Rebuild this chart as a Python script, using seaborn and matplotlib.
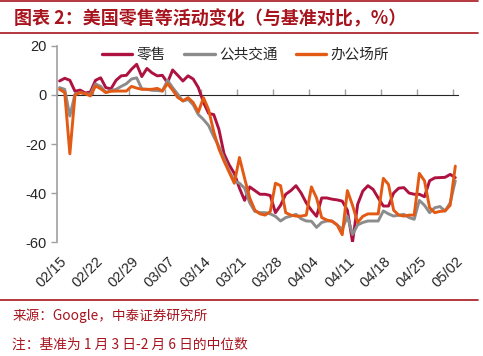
import numpy as np
import pandas as pd
import seaborn as sns
import matplotlib.pyplot as plt
from matplotlib.lines import Line2D

sns.set_style("ticks")
plt.rcParams["font.family"] = ["Noto Sans CJK SC", "DejaVu Sans"]
plt.rcParams["axes.unicode_minus"] = False

# 日期 02/15 - 05/02，每天一个点
dates = pd.date_range("2020-02-15", "2020-05-02", freq="D")
tick_labels = ["02/15", "02/22", "02/29", "03/07", "03/14", "03/21",
               "03/28", "04/04", "04/11", "04/18", "04/25", "05/02"]

retail = [5.7, 6.8, 6.0, 1.5, 2.0, 0.8, 1.2, 6.0, 7.0, 3.0,
          2.5, 6.0, 7.8, 8.0, 10.5, 12.5, 7.5, 10.8, 9.0, 7.8,
          8.0, 5.0, 10.2, 8.0, 5.7, 7.8, 6.5, 3.0, -3.0, -7.5,
          -8.0, -14.0, -24.0, -28.5, -32.0, -38.0, -43.0, -37.5, -39.0, -40.5,
          -40.5, -41.0, -48.0, -45.0, -40.5, -39.0, -37.0, -40.0, -44.0, -47.0,
          -49.5, -42.0, -42.0, -42.5, -42.8, -43.3, -47.0, -60.0, -44.6, -39.2,
          -37.0, -38.5, -42.0, -45.3, -45.3, -40.0, -38.0, -37.8, -40.0, -40.5,
          -40.5, -41.5, -35.0, -33.8, -33.7, -33.6, -32.4, -33.7]

transit = [3.0, 2.3, -8.6, 0.3, 1.0, 0.5, 0.3, 4.5, 3.5, 1.0,
           1.8, 2.3, 3.5, 4.6, 6.5, 7.0, 2.5, 2.3, 1.9, 1.8,
           1.6, 6.0, 3.0, 0.3, -2.5, -1.8, -4.0, -8.0, -10.0, -12.5,
           -17.0, -21.0, -26.0, -31.0, -35.0, -36.0, -38.0, -44.0, -47.5, -48.0,
           -48.0, -48.5, -49.5, -51.4, -50.0, -49.4, -48.7, -50.5, -51.4, -51.5,
           -54.0, -52.0, -51.4, -51.4, -53.0, -54.8, -49.5, -56.9, -53.0, -52.0,
           -51.4, -51.4, -51.4, -47.3, -48.5, -49.4, -49.0, -48.7, -50.0, -50.7,
           -43.0, -45.0, -48.0, -46.0, -45.5, -47.3, -44.0, -35.0]

office = [2.3, 1.0, -24.0, 0.0, 1.0, 0.5, -0.4, 3.7, 2.5, 1.0,
          1.5, 1.6, 1.6, 1.6, 3.5, 2.8, 2.3, 2.3, 2.3, 2.7,
          1.6, 4.6, 2.0, -1.0, -2.4, -1.1, -3.1, -7.0, -1.1, -6.0,
          -15.0, -22.0, -27.0, -31.5, -36.0, -25.5, -34.0, -42.0, -47.0, -48.5,
          -49.0, -47.5, -36.0, -37.0, -48.0, -49.0, -49.4, -49.4, -49.0, -37.5,
          -42.0, -50.0, -51.0, -51.5, -53.0, -57.0, -39.0, -45.0, -52.0, -49.5,
          -48.5, -48.5, -48.5, -34.0, -36.5, -47.0, -49.0, -49.4, -49.0, -49.0,
          -32.0, -35.0, -46.0, -48.0, -47.5, -47.3, -45.0, -29.0]

names = ["零售", "公共交通", "办公场所"]
colors = ["#AE1240", "#8C8C8C", "#E35A14"]
dark_red = "#A8141E"

n = len(dates)
df = pd.DataFrame({
    "idx": np.tile(np.arange(n), 3),
    "value": retail + transit + office,
    "series": np.repeat(names, n),
})

fig = plt.figure(figsize=(4.83, 3.56), dpi=100)
ax = fig.add_axes([0.118, 0.320, 0.830, 0.551])

sns.lineplot(data=df, x="idx", y="value", hue="series", hue_order=names,
             palette=colors, linewidth=2.1, ax=ax, legend=False)
for ln in ax.get_lines():
    ln.set_solid_joinstyle("round")

ax.set_xlim(-0.5, n - 0.5)
ax.set_ylim(-60, 20)
ax.set_yticks([20, 0, -20, -40, -60])
ax.set_xlabel("")
ax.set_ylabel("")

# 下面的日期标签
ax.set_xticks(np.arange(0, n, 7))
ax.set_xticklabels(tick_labels, rotation=45, ha="right", rotation_mode="anchor",
                   fontsize=10.5, family=["Liberation Sans", "DejaVu Sans"])
ax.tick_params(axis="x", length=0, pad=9)
ax.tick_params(axis="y", length=4, width=1, color="#A0A0A0", labelsize=10.5)
for lab in ax.get_yticklabels():
    lab.set_family(["Liberation Sans", "DejaVu Sans"])

for side in ["top", "right", "bottom"]:
    ax.spines[side].set_visible(False)
ax.spines["left"].set_color("#A0A0A0")
ax.spines["left"].set_linewidth(1.2)

# 0 轴那条横线 + 刻度
zero_ax = ax.secondary_xaxis(0.75)
zero_ax.set_xticks(np.arange(-0.5, n, 7))
zero_ax.set_xticklabels([])
zero_ax.tick_params(axis="x", length=4, width=1, color="#A0A0A0", direction="out")
zero_ax.spines["bottom"].set_color("#A0A0A0")
zero_ax.spines["bottom"].set_linewidth(1.2)

handles = [Line2D([0], [0], color=c, lw=2.4) for c in colors]
ax.legend(handles, names, loc="center", bbox_to_anchor=(0.47, 0.955), ncol=3,
          frameon=False, fontsize=10.5, handlelength=2.1, handletextpad=0.3,
          columnspacing=1.25)

# 标题和上下红线
fig.text(0.028, 0.948, "图表 2：美国零售等活动变化（与基准对比，%）",
         color=dark_red, fontsize=13, fontweight="bold", va="center")
for y in [0.997, 0.907, 0.157]:
    fig.add_artist(Line2D([0, 0.99], [y, y], transform=fig.transFigure,
                          color=dark_red, lw=1.2))

fig.text(0.025, 0.112, "来源：Google，中泰证券研究所", color=dark_red,
         fontsize=9.8, va="center")
fig.text(0.025, 0.031, "注：基准为 1 月 3 日-2 月 6 日的中位数", color=dark_red,
         fontsize=9.9, va="center")

fig.savefig("out.png", dpi=100)
